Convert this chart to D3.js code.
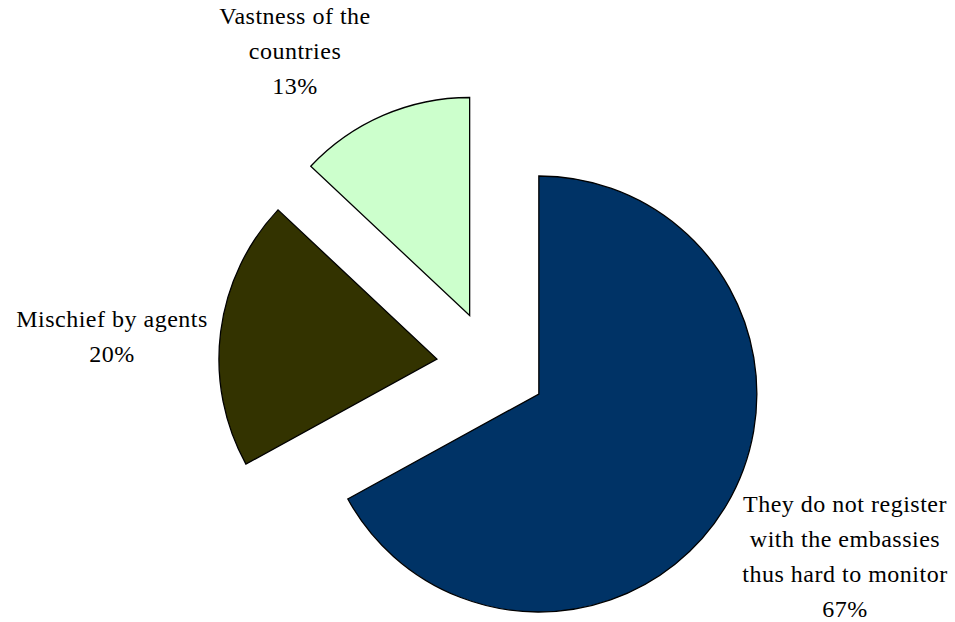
<!DOCTYPE html>
<html>
<head>
<meta charset="utf-8">
<script src="https://cdn.jsdelivr.net/npm/d3@7"></script>
<style>
  html, body { margin: 0; padding: 0; background: #ffffff; }
  svg { display: block; }
</style>
</head>
<body>
<svg id="chart" width="955" height="622"></svg>
<script>
// ---- data ----
const categories = [
  "They do not register with the embassies thus hard to monitor",
  "Mischief by agents",
  "Vastness of the countries"
];
const labelLines = [
  ["They do not register", "with the embassies", "thus hard to monitor"],
  ["Mischief by agents"],
  ["Vastness of the", "countries"]
];
const values = [67, 20, 13];
const percentLabels = ["67%", "20%", "13%"];

// ---- layout / style (kept apart from data) ----
const colors = ["#003366", "#333300", "#CCFFCC"];
const cx = 491.5, cy = 366, radius = 218, explode = 55;
const labelAnchors = [
  { x: 845, y: 512 },
  { x: 112, y: 326.5 },
  { x: 295, y: 24 }
];
const lineGap = 35;

const svg = d3.select("#chart");
const g = svg.append("g").attr("transform", `translate(${cx},${cy})`);

const pie = d3.pie().sort(null).value(d => d).startAngle(0).endAngle(2 * Math.PI);
const arcs = pie(values);
const arc = d3.arc().innerRadius(0).outerRadius(radius);

g.selectAll("path.slice")
  .data(arcs)
  .enter()
  .append("path")
  .attr("class", "slice")
  .attr("d", arc)
  .attr("fill", (d, i) => colors[i])
  .attr("stroke", "#000")
  .attr("stroke-width", 1.3)
  .attr("stroke-linejoin", "miter")
  .attr("transform", d => {
    const mid = (d.startAngle + d.endAngle) / 2;
    const dx = Math.sin(mid) * explode;
    const dy = -Math.cos(mid) * explode;
    return `translate(${dx},${dy})`;
  });

// labels
arcs.forEach((d, i) => {
  const lines = labelLines[i].concat([percentLabels[i]]);
  const t = svg.append("text")
    .attr("x", labelAnchors[i].x)
    .attr("y", labelAnchors[i].y)
    .attr("text-anchor", "middle")
    .attr("font-family", "'Liberation Serif', 'Times New Roman', serif")
    .attr("font-size", 24)
    .attr("letter-spacing", "0.5px")
    .attr("fill", "#000");
  lines.forEach((ln, k) => {
    t.append("tspan")
      .attr("x", labelAnchors[i].x)
      .attr("y", labelAnchors[i].y + k * lineGap)
      .text(ln);
  });
});
</script>
</body>
</html>
